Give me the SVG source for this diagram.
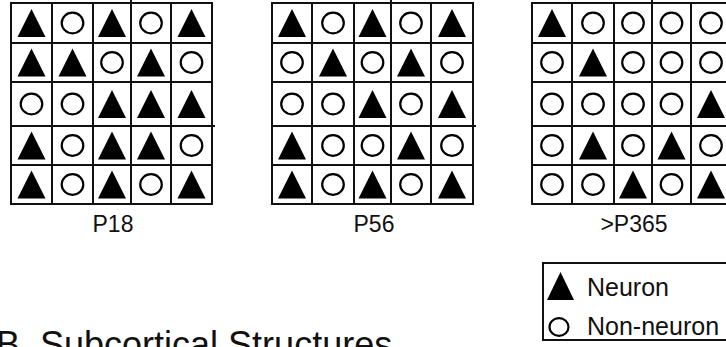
<svg xmlns="http://www.w3.org/2000/svg" xmlns:xlink="http://www.w3.org/1999/xlink" width="726" height="347" viewBox="0 0 726 347">
<style>
.grid{fill:none;stroke:#111;stroke-width:2}
.lbl{font-family:"Liberation Sans",Arial,sans-serif;fill:#111}
.tri{fill:#000}
.cir{fill:none;stroke:#000;stroke-width:2.2}
</style>
<defs>
<path id="T" class="tri" d="M0,-14 L14,14 L-14,14 Z"/>
<ellipse id="O" class="cir" cx="0" cy="0" rx="10.8" ry="10.3"/>
</defs>
<rect width="726" height="347" fill="#fff"/>

<g id="grid-p18">
<path class="grid" d="M11,3H212V204H11Z M52,3V204 M93,3V204 M131,0V204 M171,3V204 M11,43H212 M11,82H212 M11,126H215 M11,165H212"/>
<use href="#T" x="31.5" y="23"/><use href="#O" x="72.5" y="23"/><use href="#T" x="112" y="23"/><use href="#O" x="151" y="23"/><use href="#T" x="191.5" y="23"/>
<use href="#T" x="31.5" y="62.5"/><use href="#T" x="72.5" y="62.5"/><use href="#O" x="112" y="62.5"/><use href="#T" x="151" y="62.5"/><use href="#O" x="191.5" y="62.5"/>
<use href="#O" x="31.5" y="104"/><use href="#O" x="72.5" y="104"/><use href="#T" x="112" y="104"/><use href="#T" x="151" y="104"/><use href="#T" x="191.5" y="104"/>
<use href="#T" x="31.5" y="145.5"/><use href="#O" x="72.5" y="145.5"/><use href="#T" x="112" y="145.5"/><use href="#T" x="151" y="145.5"/><use href="#O" x="191.5" y="145.5"/>
<use href="#T" x="31.5" y="184.5"/><use href="#O" x="72.5" y="184.5"/><use href="#T" x="112" y="184.5"/><use href="#O" x="151" y="184.5"/><use href="#T" x="191.5" y="184.5"/>
<text class="lbl" x="113" y="232" font-size="23" text-anchor="middle">P18</text>
</g>

<g id="grid-p56">
<path class="grid" d="M272,3H473V204H272Z M312,3V204 M354,3V204 M391,0V204 M431,3V204 M272,43H473 M272,82H473 M272,126H476 M272,165H473"/>
<use href="#T" x="292" y="23"/><use href="#O" x="333" y="23"/><use href="#T" x="372.5" y="23"/><use href="#O" x="411" y="23"/><use href="#T" x="452" y="23"/>
<use href="#O" x="292" y="62.5"/><use href="#T" x="333" y="62.5"/><use href="#O" x="372.5" y="62.5"/><use href="#T" x="411" y="62.5"/><use href="#O" x="452" y="62.5"/>
<use href="#O" x="292" y="104"/><use href="#O" x="333" y="104"/><use href="#T" x="372.5" y="104"/><use href="#O" x="411" y="104"/><use href="#T" x="452" y="104"/>
<use href="#T" x="292" y="145.5"/><use href="#O" x="333" y="145.5"/><use href="#O" x="372.5" y="145.5"/><use href="#T" x="411" y="145.5"/><use href="#O" x="452" y="145.5"/>
<use href="#T" x="292" y="184.5"/><use href="#O" x="333" y="184.5"/><use href="#T" x="372.5" y="184.5"/><use href="#O" x="411" y="184.5"/><use href="#T" x="452" y="184.5"/>
<text class="lbl" x="374" y="232" font-size="23" text-anchor="middle">P56</text>
</g>

<g id="grid-p365">
<path class="grid" d="M532,3H731V204H532Z M572,3V204 M614,3V204 M652,0V204 M691,3V204 M532,43H731 M532,82H731 M532,126H731 M532,165H731"/>
<use href="#T" x="552" y="23"/><use href="#O" x="593" y="23"/><use href="#O" x="633" y="23"/><use href="#O" x="671.5" y="23"/><use href="#O" x="711" y="23"/>
<use href="#O" x="552" y="62.5"/><use href="#T" x="593" y="62.5"/><use href="#O" x="633" y="62.5"/><use href="#O" x="671.5" y="62.5"/><use href="#O" x="711" y="62.5"/>
<use href="#O" x="552" y="104"/><use href="#O" x="593" y="104"/><use href="#O" x="633" y="104"/><use href="#O" x="671.5" y="104"/><use href="#T" x="711" y="104"/>
<use href="#O" x="552" y="145.5"/><use href="#T" x="593" y="145.5"/><use href="#O" x="633" y="145.5"/><use href="#T" x="671.5" y="145.5"/><use href="#O" x="711" y="145.5"/>
<use href="#O" x="552" y="184.5"/><use href="#O" x="593" y="184.5"/><use href="#T" x="633" y="184.5"/><use href="#O" x="671.5" y="184.5"/><use href="#T" x="711" y="184.5"/>
<text class="lbl" x="634" y="232" font-size="23" text-anchor="middle">&gt;P365</text>
</g>

<g id="legend">
<rect x="543" y="263" width="190" height="77" fill="none" stroke="#111" stroke-width="2"/>
<path class="tri" d="M560.5,272 L574,300 L547,300 Z"/>
<ellipse class="cir" cx="559" cy="327" rx="9.5" ry="8.8"/>
<text class="lbl" x="587" y="296" font-size="25">Neuron</text>
<text class="lbl" x="587" y="335" font-size="25">Non-neuron</text>
</g>

<g id="title">
<text class="lbl" x="-4" y="357" font-size="36">B. Subcortical Structures</text>
</g>
</svg>
